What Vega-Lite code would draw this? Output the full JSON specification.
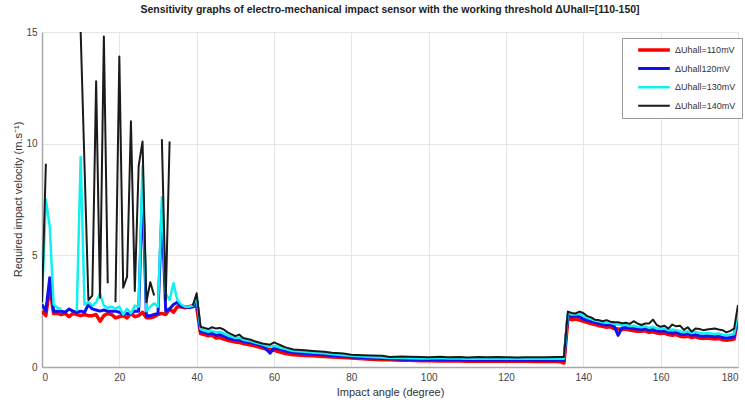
{
  "$schema": "https://vega.github.io/schema/vega-lite/v6.json",
  "autosize": {"type": "none"},
  "width": 696,
  "height": 335,
  "padding": {"left": 42, "top": 32, "right": 7, "bottom": 36},
  "background": "white",
  "config": {
    "font": "Liberation Sans",
    "view": {"stroke": "#d8d8d8", "strokeWidth": 1},
    "axis": {
      "labelFont": "Liberation Sans",
      "labelFontSize": 10,
      "labelColor": "#444444",
      "titleFont": "Liberation Sans",
      "titleFontSize": 11,
      "titleFontWeight": "normal",
      "titleColor": "#333333",
      "gridColor": "#e6e6e6",
      "gridWidth": 1,
      "domainColor": "#a8a8a8",
      "domainWidth": 1.5,
      "ticks": false
    }
  },
  "title": {
    "text": "Sensitivity graphs of electro-mechanical impact sensor with the working threshold ΔUhall=[110-150]",
    "font": "Liberation Sans",
    "fontSize": 10.5,
    "fontWeight": "bold",
    "color": "#222222",
    "anchor": "middle",
    "offset": 12
  },
  "data": {
    "values": [
      {"a": 0, "r": 2.5, "b": 2.8, "c": 2.9, "k": 2.9},
      {"a": 1, "r": 2.3, "b": 2.5, "c": 7.5, "k": 9.1},
      {"a": 2, "r": 3.6, "b": 4.0, "c": 6.3, "k": null},
      {"a": 3, "r": 2.4, "b": 2.5, "c": 2.8, "k": null},
      {"a": 4, "r": 2.4, "b": 2.5, "c": 2.65, "k": null},
      {"a": 5, "r": 2.35, "b": 2.5, "c": 2.6, "k": null},
      {"a": 6, "r": 2.4, "b": 2.45, "c": null, "k": null},
      {"a": 7, "r": 2.25, "b": 2.6, "c": null, "k": null},
      {"a": 8, "r": 2.4, "b": 2.5, "c": null, "k": null},
      {"a": 9, "r": 2.35, "b": 2.45, "c": 2.5, "k": null},
      {"a": 10, "r": 2.3, "b": 2.5, "c": 9.4, "k": 15.0},
      {"a": 11, "r": 2.35, "b": 2.45, "c": 2.8, "k": 9.0},
      {"a": 12, "r": 2.3, "b": 2.8, "c": 2.9, "k": 3.0},
      {"a": 13, "r": 2.3, "b": 2.6, "c": 2.75, "k": 3.2},
      {"a": 14, "r": 2.35, "b": 2.55, "c": 2.9, "k": 12.8},
      {"a": 15, "r": 2.05, "b": 2.5, "c": 3.3, "k": 3.1},
      {"a": 16, "r": 2.3, "b": 2.55, "c": 2.75, "k": 14.8},
      {"a": 17, "r": 2.4, "b": 2.5, "c": 2.65, "k": 3.75},
      {"a": 18, "r": 2.35, "b": 2.5, "c": 2.7, "k": null},
      {"a": 19, "r": 2.2, "b": 2.5, "c": 2.6, "k": 2.9},
      {"a": 20, "r": 2.25, "b": 2.45, "c": 2.7, "k": 13.9},
      {"a": 21, "r": 2.3, "b": 2.35, "c": 2.35, "k": 3.55},
      {"a": 22, "r": 2.2, "b": 2.4, "c": 2.6, "k": 4.05},
      {"a": 23, "r": 2.4, "b": 2.4, "c": 2.4, "k": 11.0},
      {"a": 24, "r": 2.25, "b": 2.5, "c": 2.75, "k": 3.4},
      {"a": 25, "r": 2.3, "b": 2.5, "c": 2.7, "k": 9.0},
      {"a": 26, "r": 2.45, "b": 8.0, "c": 9.0, "k": 10.1},
      {"a": 27, "r": 2.2, "b": 2.3, "c": 2.5, "k": 2.9},
      {"a": 28, "r": 2.2, "b": 2.3, "c": 2.7, "k": 3.8},
      {"a": 29, "r": 2.25, "b": 2.35, "c": 2.85, "k": 3.2},
      {"a": 30, "r": 2.35, "b": 2.4, "c": 2.7, "k": null},
      {"a": 31, "r": 2.4, "b": 7.0, "c": 7.6, "k": 10.2},
      {"a": 32, "r": 2.35, "b": 2.5, "c": 3.3, "k": 3.0},
      {"a": 33, "r": 2.6, "b": 2.6, "c": 3.0, "k": 10.1},
      {"a": 34, "r": 2.45, "b": 2.8, "c": 3.75, "k": null},
      {"a": 35, "r": 2.7, "b": 2.9, "c": 3.0, "k": null},
      {"a": 36, "r": 2.7, "b": 2.7, "c": 2.8, "k": null},
      {"a": 37, "r": 2.65, "b": 2.7, "c": 2.7, "k": null},
      {"a": 38, "r": 2.7, "b": 2.65, "c": 2.7, "k": null},
      {"a": 39, "r": 2.75, "b": 2.7, "c": 2.75, "k": 2.75},
      {"a": 40, "r": 2.7, "b": 3.0, "c": 3.1, "k": 3.3},
      {"a": 41, "r": 1.5, "b": 1.6, "c": 1.7, "k": 1.8},
      {"a": 42, "r": 1.45, "b": 1.55, "c": 1.62, "k": 1.75},
      {"a": 43, "r": 1.4, "b": 1.5, "c": 1.58, "k": 1.7},
      {"a": 44, "r": 1.42, "b": 1.52, "c": 1.62, "k": 1.78},
      {"a": 45, "r": 1.3, "b": 1.42, "c": 1.55, "k": 1.72},
      {"a": 46, "r": 1.32, "b": 1.45, "c": 1.58, "k": 1.75},
      {"a": 47, "r": 1.25, "b": 1.38, "c": 1.5, "k": 1.68},
      {"a": 48, "r": 1.2, "b": 1.3, "c": 1.42, "k": 1.55},
      {"a": 50, "r": 1.12, "b": 1.22, "c": 1.3, "k": 1.38},
      {"a": 51, "r": 1.1, "b": 1.22, "c": 1.32, "k": 1.45},
      {"a": 52, "r": 1.05, "b": 1.15, "c": 1.22, "k": 1.3},
      {"a": 54, "r": 0.98, "b": 1.08, "c": 1.15, "k": 1.22},
      {"a": 55, "r": 0.95, "b": 1.05, "c": 1.1, "k": 1.15},
      {"a": 57, "r": 0.85, "b": 0.95, "c": 1.0, "k": 1.05},
      {"a": 59, "r": 0.78, "b": 0.62, "c": 0.9, "k": 1.0},
      {"a": 60, "r": 0.75, "b": 0.85, "c": 0.95, "k": 1.1},
      {"a": 62, "r": 0.65, "b": 0.78, "c": 0.85, "k": 0.95},
      {"a": 63, "r": 0.6, "b": 0.72, "c": 0.8, "k": 0.88},
      {"a": 65, "r": 0.55, "b": 0.65, "c": 0.72, "k": 0.78},
      {"a": 68, "r": 0.52, "b": 0.6, "c": 0.68, "k": 0.75},
      {"a": 70, "r": 0.5, "b": 0.58, "c": 0.65, "k": 0.72},
      {"a": 73, "r": 0.47, "b": 0.55, "c": 0.62, "k": 0.68},
      {"a": 75, "r": 0.45, "b": 0.52, "c": 0.58, "k": 0.64},
      {"a": 78, "r": 0.42, "b": 0.48, "c": 0.53, "k": 0.6},
      {"a": 80, "r": 0.4, "b": 0.45, "c": 0.5, "k": 0.55},
      {"a": 83, "r": 0.37, "b": 0.42, "c": 0.47, "k": 0.53},
      {"a": 85, "r": 0.35, "b": 0.4, "c": 0.45, "k": 0.52},
      {"a": 88, "r": 0.33, "b": 0.38, "c": 0.43, "k": 0.5},
      {"a": 90, "r": 0.32, "b": 0.37, "c": 0.4, "k": 0.45},
      {"a": 93, "r": 0.3, "b": 0.35, "c": 0.4, "k": 0.47},
      {"a": 95, "r": 0.3, "b": 0.34, "c": 0.39, "k": 0.46},
      {"a": 98, "r": 0.28, "b": 0.33, "c": 0.38, "k": 0.45},
      {"a": 100, "r": 0.28, "b": 0.33, "c": 0.38, "k": 0.44},
      {"a": 103, "r": 0.27, "b": 0.32, "c": 0.4, "k": 0.46},
      {"a": 105, "r": 0.27, "b": 0.32, "c": 0.38, "k": 0.44},
      {"a": 108, "r": 0.27, "b": 0.32, "c": 0.38, "k": 0.45},
      {"a": 110, "r": 0.26, "b": 0.31, "c": 0.37, "k": 0.43},
      {"a": 113, "r": 0.27, "b": 0.32, "c": 0.38, "k": 0.45},
      {"a": 115, "r": 0.26, "b": 0.31, "c": 0.37, "k": 0.44},
      {"a": 118, "r": 0.27, "b": 0.32, "c": 0.38, "k": 0.45},
      {"a": 120, "r": 0.26, "b": 0.31, "c": 0.37, "k": 0.44},
      {"a": 123, "r": 0.26, "b": 0.31, "c": 0.37, "k": 0.43},
      {"a": 125, "r": 0.26, "b": 0.31, "c": 0.37, "k": 0.44},
      {"a": 128, "r": 0.25, "b": 0.3, "c": 0.37, "k": 0.44},
      {"a": 130, "r": 0.26, "b": 0.31, "c": 0.37, "k": 0.44},
      {"a": 133, "r": 0.25, "b": 0.3, "c": 0.37, "k": 0.45},
      {"a": 134, "r": 0.24, "b": 0.3, "c": 0.37, "k": 0.45},
      {"a": 135, "r": 0.18, "b": 0.3, "c": 0.37, "k": 0.45},
      {"a": 136, "r": 2.17, "b": 2.32, "c": 2.4, "k": 2.48},
      {"a": 137, "r": 2.12, "b": 2.25, "c": 2.35, "k": 2.42},
      {"a": 138, "r": 2.15, "b": 2.28, "c": 2.35, "k": 2.4},
      {"a": 139, "r": 2.1, "b": 2.25, "c": 2.38, "k": 2.48},
      {"a": 140, "r": 2.05, "b": 2.15, "c": 2.3, "k": 2.42},
      {"a": 141, "r": 2.0, "b": 2.1, "c": 2.2, "k": 2.28},
      {"a": 142, "r": 1.95, "b": 2.05, "c": 2.15, "k": 2.22},
      {"a": 143, "r": 1.9, "b": 2.0, "c": 2.08, "k": 2.12},
      {"a": 144, "r": 1.85, "b": 1.95, "c": 2.05, "k": 2.1},
      {"a": 145, "r": 1.82, "b": 1.9, "c": 2.0, "k": 2.05},
      {"a": 146, "r": 1.78, "b": 1.88, "c": 1.98, "k": 2.1},
      {"a": 147, "r": 1.8, "b": 1.9, "c": 1.98, "k": 2.03},
      {"a": 148, "r": 1.72, "b": 1.82, "c": 1.92, "k": 2.0},
      {"a": 149, "r": 1.7, "b": 1.42, "c": 1.9, "k": 2.0},
      {"a": 150, "r": 1.68, "b": 1.75, "c": 1.88, "k": 1.96},
      {"a": 151, "r": 1.7, "b": 1.78, "c": 1.88, "k": 1.98},
      {"a": 152, "r": 1.65, "b": 1.73, "c": 1.83, "k": 1.93},
      {"a": 153, "r": 1.62, "b": 1.72, "c": 1.85, "k": 2.05},
      {"a": 154, "r": 1.6, "b": 1.7, "c": 1.8, "k": 1.95},
      {"a": 155, "r": 1.6, "b": 1.68, "c": 1.78, "k": 1.88},
      {"a": 156, "r": 1.62, "b": 1.72, "c": 1.82, "k": 1.95},
      {"a": 157, "r": 1.55, "b": 1.65, "c": 1.75, "k": 1.95},
      {"a": 158, "r": 1.58, "b": 1.68, "c": 1.8, "k": 2.12},
      {"a": 159, "r": 1.52, "b": 1.62, "c": 1.72, "k": 1.88},
      {"a": 160, "r": 1.5, "b": 1.6, "c": 1.7, "k": 1.8},
      {"a": 161, "r": 1.52, "b": 1.62, "c": 1.72, "k": 1.85},
      {"a": 162, "r": 1.45, "b": 1.55, "c": 1.65, "k": 1.72},
      {"a": 163, "r": 1.42, "b": 1.52, "c": 1.68, "k": 1.9},
      {"a": 164, "r": 1.45, "b": 1.55, "c": 1.65, "k": 1.82},
      {"a": 165, "r": 1.38, "b": 1.48, "c": 1.6, "k": 1.85},
      {"a": 166, "r": 1.35, "b": 1.45, "c": 1.55, "k": 1.66},
      {"a": 167, "r": 1.38, "b": 1.5, "c": 1.6, "k": 1.78},
      {"a": 168, "r": 1.32, "b": 1.42, "c": 1.52, "k": 1.58},
      {"a": 169, "r": 1.35, "b": 1.45, "c": 1.58, "k": 1.72},
      {"a": 170, "r": 1.3, "b": 1.4, "c": 1.52, "k": 1.7},
      {"a": 171, "r": 1.28, "b": 1.38, "c": 1.5, "k": 1.65},
      {"a": 172, "r": 1.3, "b": 1.4, "c": 1.52, "k": 1.68},
      {"a": 173, "r": 1.28, "b": 1.38, "c": 1.5, "k": 1.7},
      {"a": 174, "r": 1.25, "b": 1.35, "c": 1.48, "k": 1.72},
      {"a": 175, "r": 1.28, "b": 1.38, "c": 1.5, "k": 1.68},
      {"a": 176, "r": 1.22, "b": 1.32, "c": 1.45, "k": 1.65},
      {"a": 177, "r": 1.2, "b": 1.3, "c": 1.42, "k": 1.55},
      {"a": 178, "r": 1.22, "b": 1.32, "c": 1.45, "k": 1.62},
      {"a": 179, "r": 1.25, "b": 1.35, "c": 1.48, "k": 1.72},
      {"a": 180, "r": 2.2, "b": 2.35, "c": 2.4, "k": 2.78}
    ]
  },
  "transform": [
    {"fold": ["r", "b", "c", "k"], "as": ["series", "v"]}
  ],
  "mark": {"type": "line", "clip": true, "invalid": "break-paths-filter-domains", "strokeJoin": "round"},
  "encoding": {
    "x": {
      "field": "a",
      "type": "quantitative",
      "scale": {"domain": [0, 180], "nice": false},
      "axis": {"values": [0, 20, 40, 60, 80, 100, 120, 140, 160, 180], "title": "Impact angle (degree)", "labelPadding": 5, "titlePadding": 4}
    },
    "y": {
      "field": "v",
      "type": "quantitative",
      "scale": {"domain": [0, 15], "nice": false},
      "axis": {"values": [0, 5, 10, 15], "title": "Required impact velocity (m.s⁻¹)", "labelPadding": 5, "titleX": -24, "titleY": 167, "titleAngle": -90, "titleBaseline": "middle", "titleAlign": "center"}
    },
    "color": {
      "field": "series",
      "type": "nominal",
      "scale": {"domain": ["r", "b", "c", "k"], "range": ["#ff0000", "#1010f0", "#10f0f0", "#1a1a1a"]},
      "legend": {
        "title": null,
        "orient": "none",
        "legendX": 580,
        "legendY": 6,
        "symbolType": "stroke",
        "symbolSize": 1000,
        "symbolStrokeWidth": 2.5,
        "symbolOffset": 8,
        "clipHeight": 12,
        "rowPadding": 6.6,
        "labelFont": "Liberation Sans",
        "labelFontSize": 9,
        "labelColor": "#333333",
        "labelOffset": 3,
        "padding": 6,
        "fillColor": "white",
        "strokeColor": "#9a9a9a",
        "cornerRadius": 0,
        "labelExpr": "{'r': 'ΔUhall=110mV', 'b': 'ΔUhall120mV', 'c': 'ΔUhall=130mV', 'k': 'ΔUhall=140mV'}[datum.value]"
      }
    },
    "strokeWidth": {
      "field": "series",
      "type": "nominal",
      "scale": {"domain": ["r", "b", "c", "k"], "range": [3.5, 2, 2, 2]},
      "legend": null
    },
    "order": {"field": "a", "type": "quantitative"}
  }
}
